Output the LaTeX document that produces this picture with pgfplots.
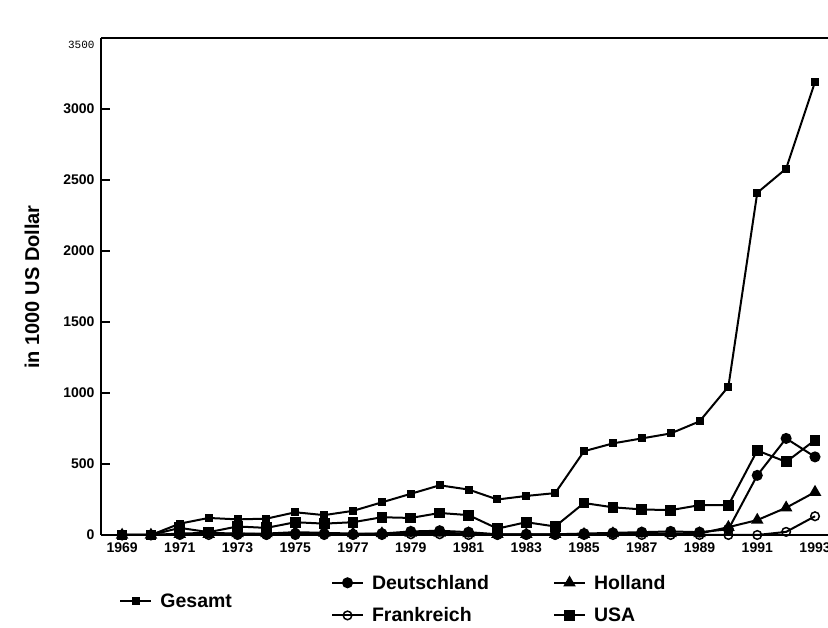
\documentclass[border=0pt]{standalone}
\usepackage{pgfplots}
\pgfplotsset{compat=1.18}
\usepackage{pgfplotstable}
\usepackage{fontspec}
\setmainfont{Liberation Sans}
\setmonofont{Liberation Mono}

\pgfplotstableread{
year Gesamt USA Deutschland Holland Frankreich
1969 0 0 0 0 0
1970 0 0 0 0 0
1971 80 50 10 5 0
1972 120 20 15 5 0
1973 110 60 10 10 0
1974 115 50 5 10 0
1975 160 90 10 20 0
1976 140 80 10 15 0
1977 170 90 5 10 0
1978 230 125 10 10 0
1979 290 120 25 15 5
1980 350 155 30 15 5
1981 320 140 20 10 0
1982 250 45 5 5 0
1983 275 90 5 5 0
1984 295 60 5 5 0
1985 590 225 10 5 0
1986 645 195 15 10 0
1987 680 180 20 10 0
1988 715 175 25 10 0
1989 800 210 20 10 0
1990 1045 210 40 55 0
1991 2410 595 420 105 0
1992 2580 515 680 192 22
1993 3190 668 550 302 132
}\datatable

\pgfplotsset{
  mylegimg/.style={legend image code/.code={\draw[mark repeat=2,mark phase=2,##1] plot coordinates {(0pt,0pt) (15.5pt,0pt) (31pt,0pt)};}},
}

\begin{document}
\begin{tikzpicture}
\useasboundingbox (0,0) rectangle (828pt,628pt);
\begin{axis}[
  at={(101pt,93pt)}, anchor=south west,
  width=727pt, height=497pt, scale only axis,
  xmin=1968.27, xmax=1993.45,
  ymin=0, ymax=3500,
  axis x line*=box, axis y line*=left,
  axis line style={line width=2pt},
  xtick={1969,1971,...,1993},
  ytick={0,500,...,3000},
  extra y ticks={3500},
  extra y tick style={yticklabel style={font=\fontsize{11}{11}\selectfont\ttfamily, yshift=-7pt}, major tick length=0pt},
  /pgf/number format/assume math mode=true,
  /pgf/number format/1000 sep={},
  tick style={line width=1.8pt, black},
  major tick length=9pt,
  xtick style={draw=none},
  tick align=inside,
  ticklabel style={font=\fontsize{14}{14}\selectfont\bfseries},
  yticklabel style={xshift=-3pt},
  xticklabel style={yshift=-4pt},
  ylabel={in 1000 US Dollar},
  every axis y label/.style={at={(axis description cs:-0.0949,0.499)}, rotate=90, anchor=center, font=\fontsize{20}{20}\selectfont\bfseries},
  clip=false,
  every axis plot/.append style={line width=2pt, black},
  mylegimg,
  legend columns=2, transpose legend,
  legend cell align=left,
  legend style={draw=none, fill=none, at={(0.312,-0.072)}, anchor=north west,
    font=\fontsize{19.5}{20}\selectfont\bfseries,
    /tikz/every odd column/.append style={column sep=6pt},
    /tikz/every even column/.append style={column sep=62pt},
    row sep=13pt},
]
\addplot[mark=*, mark size=4.5pt] table[x=year,y=Deutschland]{\datatable};
\addlegendentry{Deutschland}
\addplot[mark=o, mark size=4.3pt, mark options={fill=white, line width=1.5pt}] table[x=year,y=Frankreich]{\datatable};
\addlegendentry{Frankreich}
\addplot[mark=triangle*, mark size=5.3pt] table[x=year,y=Holland]{\datatable};
\addlegendentry{Holland}
\addplot[mark=square*, mark size=4.4pt] table[x=year,y=USA]{\datatable};
\addlegendentry{USA}
\addplot[mark=square*, mark size=3pt, forget plot] table[x=year,y=Gesamt]{\datatable};
\end{axis}
\begin{axis}[
  at={(101pt,93pt)}, anchor=south west,
  width=727pt, height=497pt, scale only axis,
  hide axis, xmin=0, xmax=1, ymin=0, ymax=1,
  mylegimg,
  legend style={draw=none, fill=none, at={(0.021,-0.11)}, anchor=north west,
    font=\fontsize{19.5}{20}\selectfont\bfseries,
    /tikz/every odd column/.append style={column sep=6pt}},
]
\addlegendimage{black, line width=2pt, mark=square*, mark size=3pt}
\addlegendentry{Gesamt}
\end{axis}
\end{tikzpicture}
\end{document}
